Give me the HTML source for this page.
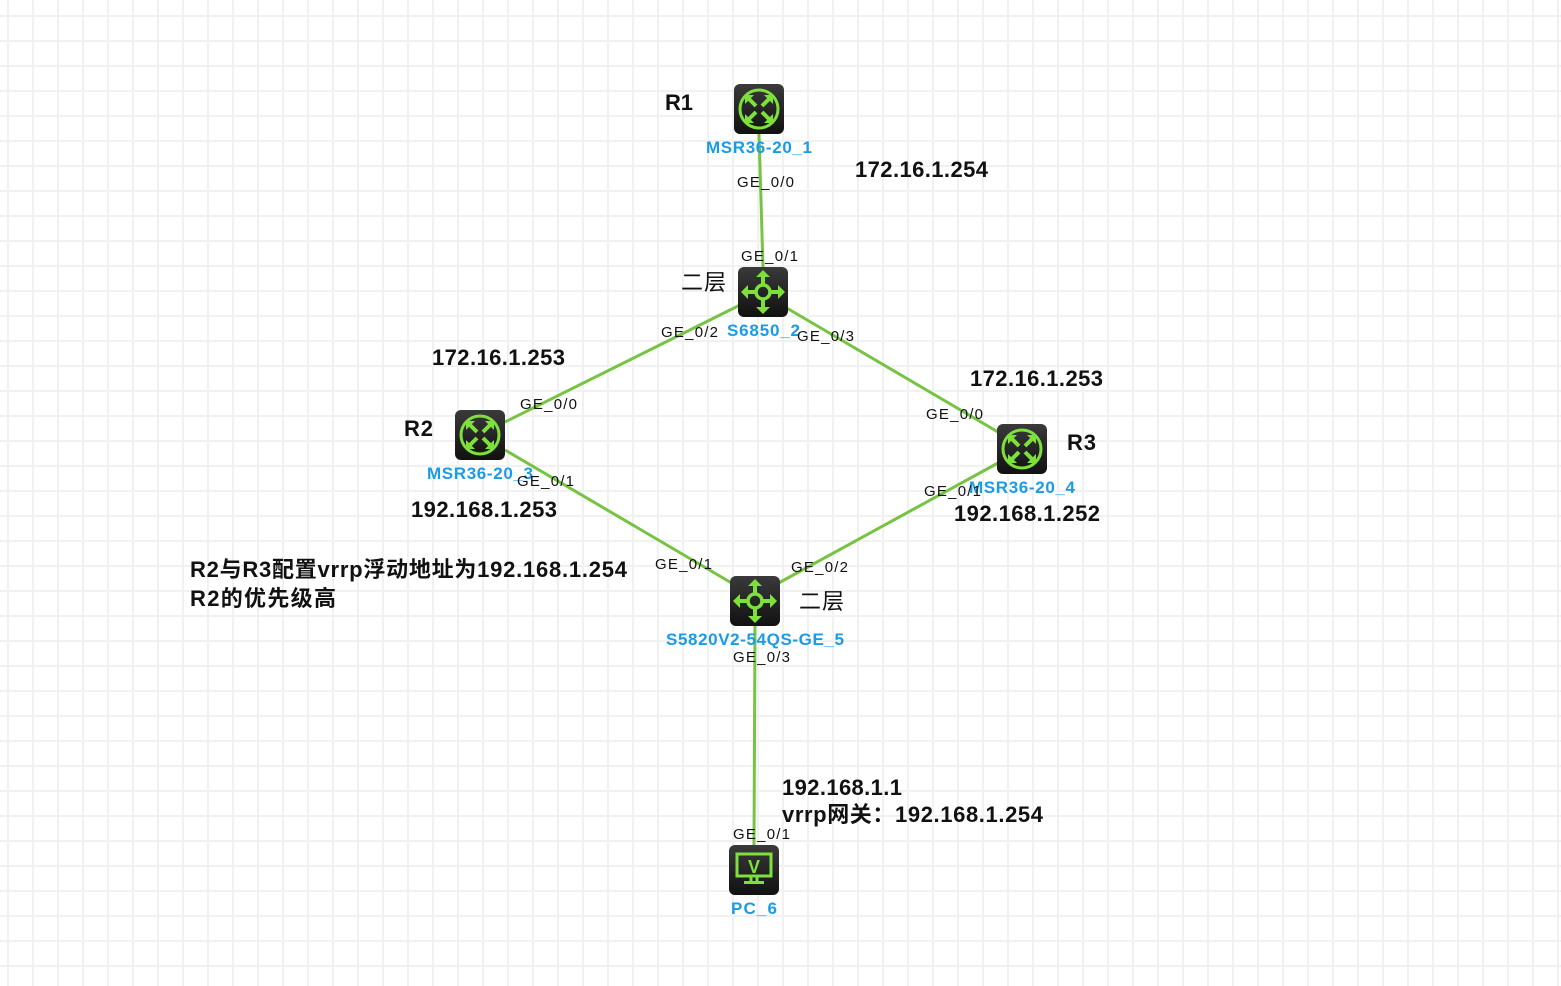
<!DOCTYPE html>
<html><head><meta charset="utf-8"><style>
html,body{margin:0;padding:0;background:#fff;}
svg{display:block}
.ge{font:15px "Liberation Sans",sans-serif;fill:#111}
.nm{font:bold 17px "Liberation Sans",sans-serif;fill:#1a9be8}
.ip{font:bold 22px "Liberation Sans","Noto Sans CJK SC",sans-serif;fill:#111}
.cn{font:22px "Liberation Sans","Noto Sans CJK SC",sans-serif;fill:#111}
</style></head><body>
<svg width="1561" height="986" viewBox="0 0 1561 986" xmlns="http://www.w3.org/2000/svg">
<defs>
<pattern id="g" x="7" y="15" width="25" height="25" patternUnits="userSpaceOnUse">
<rect x="0" y="0" width="25" height="2" fill="#f1f1f1"/><rect x="0" y="0" width="2" height="25" fill="#f1f1f1"/>
</pattern>
<linearGradient id="bg" x1="0" y1="0" x2="0" y2="1"><stop offset="0" stop-color="#3a3a3a"/><stop offset="1" stop-color="#111"/></linearGradient>
<g id="rt">
<rect x="-25" y="-25" width="50" height="50" rx="6" fill="url(#bg)"/>
<circle r="19" fill="none" stroke="#7ee03a" stroke-width="3"/>
<g stroke="#7ee03a" stroke-width="4" fill="none"><path d="M-11 -11 L-3 -3 M11 -11 L3 -3 M-11 11 L-3 3 M11 11 L3 3"/></g>
<g fill="#7ee03a"><path d="M-14 -14 L-5 -14 L-14 -5Z M14 -14 L5 -14 L14 -5Z M-14 14 L-5 14 L-14 5Z M14 14 L5 14 L14 5Z"/></g>
</g>
<g id="sw">
<rect x="-25" y="-25" width="50" height="50" rx="6" fill="url(#bg)"/>
<circle r="7" fill="none" stroke="#7ee03a" stroke-width="3.5"/>
<g stroke="#7ee03a" stroke-width="4"><path d="M0 -7 V-17 M0 7 V17 M-7 0 H-17 M7 0 H17"/></g>
<g fill="#7ee03a"><path d="M-7 -15 L0 -22 L7 -15Z M-7 15 L0 22 L7 15Z M-15 -7 L-22 0 L-15 7Z M15 -7 L22 0 L15 7Z"/></g>
</g>
</defs>
<rect width="1561" height="986" fill="url(#g)"/>
<g stroke="#76c442" stroke-width="3" fill="none">
<line x1="759" y1="134" x2="763" y2="267"/>
<line x1="740" y1="305" x2="505" y2="422"/>
<line x1="785" y1="307" x2="998" y2="432"/>
<line x1="505" y1="450" x2="735" y2="585"/>
<line x1="998" y1="463" x2="775" y2="585"/>
<line x1="755" y1="626" x2="754" y2="845"/>
</g>
<use href="#rt" x="759" y="109"/>
<use href="#sw" x="763" y="292"/>
<use href="#rt" x="480" y="435"/>
<use href="#rt" x="1022" y="449"/>
<use href="#sw" x="755" y="601"/>
<g transform="translate(754,870)">
<rect x="-25" y="-25" width="50" height="50" rx="6" fill="url(#bg)"/>
<rect x="-17" y="-16" width="34" height="22" fill="none" stroke="#7ee03a" stroke-width="3"/>
<path d="M-3 6 V11 M3 6 V11" stroke="#7ee03a" stroke-width="3"/>
<rect x="-10" y="11" width="20" height="3" fill="#7ee03a"/>
<text x="0" y="3" text-anchor="middle" style="font:bold 18px 'Liberation Sans',sans-serif;fill:#7ee03a">V</text>
</g>
<g lengthAdjust="spacing">
<text class="nm" x="706" y="153" textLength="106">MSR36-20_1</text>
<text class="nm" x="727" y="336" textLength="73">S6850_2</text>
<text class="nm" x="427" y="479" textLength="106">MSR36-20_3</text>
<text class="nm" x="969" y="493" textLength="106">MSR36-20_4</text>
<text class="nm" x="666" y="645" textLength="178">S5820V2-54QS-GE_5</text>
<text class="nm" x="731" y="914" textLength="46">PC_6</text>
<text class="ge" x="737" y="187" textLength="57">GE_0/0</text>
<text class="ge" x="741" y="261" textLength="57">GE_0/1</text>
<text class="ge" x="661" y="337" textLength="57">GE_0/2</text>
<text class="ge" x="797" y="341" textLength="57">GE_0/3</text>
<text class="ge" x="520" y="409" textLength="57">GE_0/0</text>
<text class="ge" x="926" y="419" textLength="57">GE_0/0</text>
<text class="ge" x="517" y="486" textLength="57">GE_0/1</text>
<text class="ge" x="924" y="496" textLength="57">GE_0/1</text>
<text class="ge" x="655" y="569" textLength="57">GE_0/1</text>
<text class="ge" x="791" y="572" textLength="57">GE_0/2</text>
<text class="ge" x="733" y="662" textLength="57">GE_0/3</text>
<text class="ge" x="733" y="839" textLength="57">GE_0/1</text>
<text class="ip" x="665" y="110" textLength="28">R1</text>
<text class="ip" x="404" y="436" textLength="29">R2</text>
<text class="ip" x="1067" y="450" textLength="29">R3</text>
<text class="cn" x="681" y="290" textLength="45">二层</text>
<text class="cn" x="799" y="609" textLength="45">二层</text>
<text class="ip" x="855" y="177" textLength="133">172.16.1.254</text>
<text class="ip" x="432" y="365" textLength="133">172.16.1.253</text>
<text class="ip" x="970" y="386" textLength="133">172.16.1.253</text>
<text class="ip" x="411" y="517" textLength="146">192.168.1.253</text>
<text class="ip" x="954" y="521" textLength="146">192.168.1.252</text>
<text class="ip" x="190" y="577" textLength="437">R2与R3配置vrrp浮动地址为192.168.1.254</text>
<text class="ip" x="190" y="606" textLength="146">R2的优先级高</text>
<text class="ip" x="782" y="795" textLength="120">192.168.1.1</text>
<text class="ip" x="782" y="822" textLength="261">vrrp网关：192.168.1.254</text>
</g>
</svg>
</body></html>
